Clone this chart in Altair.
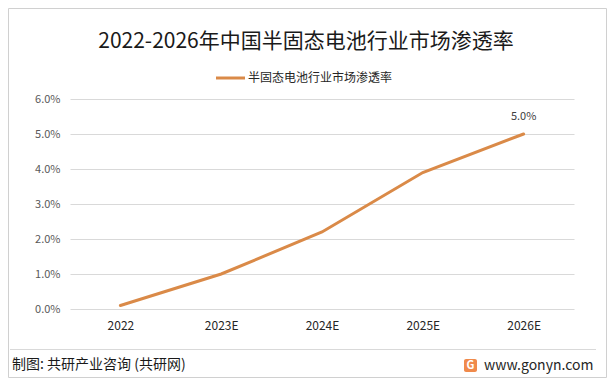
import altair as alt
import pandas as pd

years = ["2022", "2023E", "2024E", "2025E", "2026E"]
rates = [0.001, 0.010, 0.022, 0.039, 0.050]
series_name = "半固态电池行业市场渗透率"
title_text = "2022-2026年中国半固态电池行业市场渗透率"
source_text = "制图: 共研产业咨询 (共研网)"
site_text = "www.gonyn.com"
y_ticks = [0, 0.01, 0.02, 0.03, 0.04, 0.05, 0.06]

LINE_COLOR = "#DA8A48"
FONT = "Noto Sans CJK SC"

df = pd.DataFrame({"year": years, "rate": rates})

x_enc = alt.X("year:N", sort=years,
              scale=alt.Scale(type="point", padding=0.5),
              axis=alt.Axis(title=None, labelAngle=0, domain=False, ticks=False,
                            labelPadding=11, labelFontSize=12, labelColor="#262626",
                            labelFont=FONT, grid=False))
y_enc = alt.Y("rate:Q",
              scale=alt.Scale(domain=[0, 0.06], nice=False),
              axis=alt.Axis(title=None, values=y_ticks, format=".1%", domain=False,
                            ticks=False, labelPadding=10, labelFontSize=11,
                            labelColor="#595959", labelFont=FONT, labelOverlap=False,
                            grid=True, gridColor="#d9d9d9", gridWidth=1))

base = alt.Chart(df)
line = base.mark_line(color=LINE_COLOR, strokeWidth=3, strokeCap="round").encode(x=x_enc, y=y_enc)

last = alt.Chart(pd.DataFrame({"year": [years[-1]], "rate": [rates[-1]]})).mark_text(
    dy=-17, fontSize=11, color="#404040", font=FONT
).encode(x=x_enc, y=y_enc, text=alt.Text("rate:Q", format=".1%"))


def txt(s, x, y, **kw):
    return alt.Chart(pd.DataFrame({"t": [s]})).mark_text(font=FONT, baseline="middle", **kw).encode(
        x=alt.value(x), y=alt.value(y), text="t:N")


title = txt(title_text, 236, -57, fontSize=21, color="#1a1a1a", align="center")
legend_rule = alt.Chart(pd.DataFrame({"s": [series_name]})).mark_rule(
    color=LINE_COLOR, strokeWidth=3).encode(x=alt.value(146), x2=alt.value(175), y=alt.value(-21))
legend_text = txt(series_name, 178, -21, fontSize=12, color="#262626", align="left")

sep = alt.Chart(pd.DataFrame({"a": [0]})).mark_rule(color="#d9d9d9", strokeWidth=1).encode(
    x=alt.value(-60), x2=alt.value(526), y=alt.value(250.5))
border = alt.Chart(pd.DataFrame({"a": [0]})).mark_rect(
    fill="white", fillOpacity=0, stroke="#d0d0d0", strokeWidth=1).encode(
    x=alt.value(-61.5), x2=alt.value(536.5), y=alt.value(-90.5), y2=alt.value(278.5))
source = txt(source_text, -58, 266, fontSize=14, color="#1a1a1a", align="left", fontWeight="normal")
logo = alt.Chart(pd.DataFrame({"a": [0]})).mark_rect(color="#F08A4B", cornerRadius=2).encode(
    x=alt.value(394), x2=alt.value(407), y=alt.value(260), y2=alt.value(273))
logo_g = txt("G", 400.5, 266.5, fontSize=11, color="white", align="center", fontWeight="bold")
site = txt(site_text, 414, 267, fontSize=14, color="#262626", align="left")

chart = alt.layer(border, line, last, title, legend_rule, legend_text, sep, source, logo, logo_g, site).properties(
    width=504, height=210,
    autosize=alt.AutoSizeParams(type="none"),
    padding={"left": 62, "top": 91, "right": 33, "bottom": 69},
    background="white",
).configure_view(stroke=None)

chart.save("out.html", embed_options={"renderer": "svg", "actions": False})
